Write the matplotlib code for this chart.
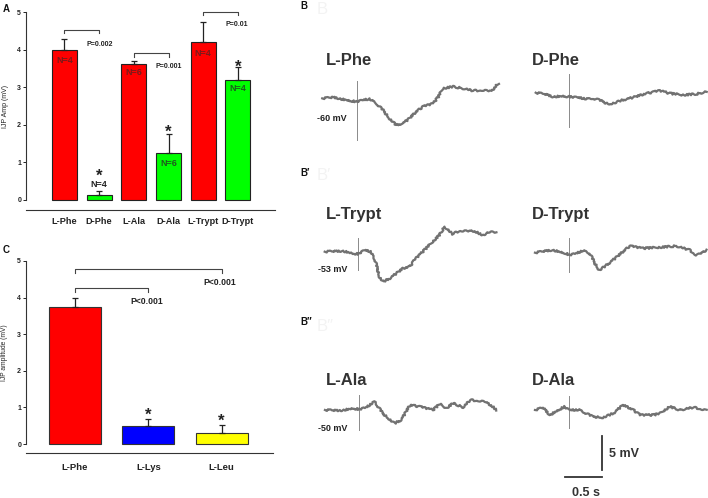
import numpy as np
import matplotlib.pyplot as plt

plt.rcParams['font.family'] = ['Liberation Sans', 'DejaVu Sans']
plt.rcParams['font.weight'] = 'bold'

W, H = 708, 498

# ---- panel A data
a_labels = ['L-Phe', 'D-Phe', 'L-Ala', 'D-Ala', 'L-Trypt', 'D-Trypt']
a_means = [3.98, 0.14, 3.62, 1.24, 4.21, 3.18]
a_err = [0.30, 0.10, 0.08, 0.52, 0.53, 0.35]
a_n = ['N=4', 'N=4', 'N=6', 'N=6', 'N=4', 'N=4']
a_n_y = [3.72, 0.40, 3.40, 0.98, 3.90, 2.97]
a_colors = ['#ff0000', '#00ff00'] * 3
a_pvals = ['P=0.002', 'P=0.001', 'P=0.01']
a_bracket_y = [4.52, 3.90, 5.00]
a_pval_y = [4.14, 3.55, 4.67]
a_star_y = [0.52, 1.69, 3.42]   # over D-Phe, D-Ala, D-Trypt

# ---- panel C data
c_labels = ['L-Phe', 'L-Lys', 'L-Leu']
c_means = [3.73, 0.50, 0.31]
c_err = [0.27, 0.19, 0.21]
c_colors = ['#ff0000', '#0000ff', '#ffff00']
c_pvals = ['P<0.001', 'P<0.001']
c_bracket_y = [4.26, 4.78]
c_pval_y = [3.88, 4.40]
c_star_y = [0.66, 0.50]

# ---- panel B traces: time from stimulus (s), voltage from baseline (mV)
lphe_t = [-0.47, -0.32, -0.14, -0.01, 0.08, 0.17, 0.26, 0.35, 0.44, 0.53, 0.62, 0.71,
          0.80, 0.89, 1.03, 1.10, 1.16, 1.30, 1.43, 1.57, 1.70, 1.82, 1.91]
lphe_v = [0.49, 0.64, 0.25, 0.0, 0.25, 0.39, -0.25, -1.23, -2.45, -3.43, -3.19, -2.45,
          -1.47, -0.74, -0.25, 0.74, 1.96, 2.21, 1.96, 1.62, 1.72, 1.62, 2.70]
dphe_t = [-0.45, -0.33, -0.22, -0.08, 0.0, 0.12, 0.23, 0.32, 0.41, 0.53, 0.62, 0.69,
          0.87, 1.05, 1.14, 1.23, 1.36, 1.54, 1.72, 1.86]
dphe_v = [0.59, 0.39, 0.0, 0.10, 0.0, -0.10, -0.34, -0.25, -0.49, -1.08, -0.88, -0.59,
          -0.10, 0.49, 0.69, 0.88, 0.49, 0.25, 0.39, 0.74]
ltry_t = [-0.45, -0.20, -0.07, 0.0, 0.09, 0.17, 0.23, 0.29, 0.34, 0.43, 0.52, 0.61, 0.70,
          0.77, 0.83, 0.92, 1.01, 1.10, 1.17, 1.24, 1.28, 1.37, 1.55, 1.69, 1.78, 1.87]
ltry_v = [0.34, 0.44, 0.10, 0.0, 0.59, 0.34, -0.88, -3.33, -4.07, -3.58, -2.84, -2.11,
          -1.86, -0.78, -0.15, 0.83, 1.81, 2.79, 4.02, 3.28, 2.94, 3.43, 3.43, 2.79, 3.28, 3.14]
dtry_t = [-0.46, -0.22, -0.04, 0.0, 0.10, 0.19, 0.28, 0.35, 0.41, 0.51, 0.64, 0.82, 1.00,
          1.23, 1.45, 1.63, 1.72, 1.86]
dtry_v = [0.34, 0.74, 0.25, 0.0, 0.25, 0.64, 0.25, -1.23, -2.21, -1.47, -0.34, 1.32, 0.98,
          1.13, 1.32, 0.74, 0.0, 0.74]
lala_t = [-0.46, -0.26, -0.08, 0.0, 0.10, 0.21, 0.32, 0.48, 0.57, 0.69, 0.82, 1.00, 1.09,
          1.18, 1.27, 1.41, 1.50, 1.63, 1.72, 1.86]
lala_v = [-0.10, -0.20, 0.15, 0.0, 0.29, 1.13, -0.59, -2.06, -1.57, 0.64, 0.39, -0.10, 0.78,
          0.15, 0.88, 0.29, 1.37, 1.27, 1.13, -0.10]
dala_t = [-0.46, -0.35, -0.26, -0.13, -0.06, 0.0, 0.14, 0.32, 0.46, 0.60, 0.73, 0.87, 0.96,
          1.14, 1.23, 1.36, 1.50, 1.68, 1.86]
dala_v = [0.0, 0.34, -0.74, 0.10, 0.49, 0.0, 0.0, -0.98, -1.08, -0.49, 0.74, 0.0, -0.74,
          -0.74, -0.49, 0.49, 0.0, 0.39, 0.0]
trace_names = ['L-Phe', 'D-Phe', 'L-Trypt', 'D-Trypt', 'L-Ala', 'D-Ala']
trace_mv = ['-60 mV', None, '-53 mV', None, '-50 mV', None]
stim_extent = [(3.0, -5.6), (3.3, -4.5), (2.35, -2.35), (2.5, -2.5), (2.1, -3.0), (2.05, -2.65)]

fig = plt.figure(figsize=(W / 100, H / 100), dpi=100)


def fx(x, y):
    return x / W, 1 - y / H


def style_axes(ax, offset):
    ax.spines['top'].set_visible(False)
    ax.spines['right'].set_visible(False)
    ax.spines['left'].set_bounds(0, 5)
    ax.spines['bottom'].set_position(('outward', offset))
    for s in ('left', 'bottom'):
        ax.spines[s].set_linewidth(0.8)
        ax.spines[s].set_color('#333333')
    ax.set_ylim(0, 5)
    ax.set_yticks(range(6))
    ax.tick_params(axis='y', length=2, width=0.7, pad=1.5, labelsize=5, colors='#222222')
    ax.tick_params(axis='x', length=0, labelsize=6.6, colors='#222222')


# ---------------- panel A
axA = fig.add_axes([26 / W, 1 - 200 / H, 249 / W, 188 / H])
xa = np.arange(len(a_labels))
axA.bar(xa, a_means, width=0.72, color=a_colors, edgecolor='#222222', linewidth=0.8, clip_on=False)
axA.errorbar(xa, a_means, yerr=[np.zeros(len(xa)), a_err], fmt='none', ecolor='#222222',
             elinewidth=0.9, capsize=2, capthick=0.9, clip_on=False)
axA.set_xlim(-1.11, 6.07)
style_axes(axA, 7.2)
axA.set_xticks(xa, a_labels)
axA.tick_params(axis='x', pad=4.8)
axA.set_ylabel('IJP Amp (mV)', fontsize=5, color='#222222')
axA.yaxis.set_label_coords(-0.068, 0.5)
for i, (by, py, p) in enumerate(zip(a_bracket_y, a_pval_y, a_pvals)):
    x0 = 2 * i
    axA.plot([x0, x0, x0 + 1, x0 + 1], [by - 0.09, by, by, by - 0.09], color='#444444',
             lw=0.8, clip_on=False)
    axA.text(x0 + 0.63, py, p, fontsize=5, color='#222222', va='center', ha='left')
for i, (n, ny) in enumerate(zip(a_n, a_n_y)):
    col = '#222222' if i == 1 else ('#7a1a1a' if i % 2 == 0 else '#1f5a1f')
    axA.text(i, ny, n, fontsize=6.5, ha='center', va='center', color=col)
for i, sy in zip([1, 3, 5], a_star_y):
    axA.text(i, sy, '*', fontsize=12, ha='center', va='baseline', color='#222222')

# ---------------- panel C
axC = fig.add_axes([26 / W, 1 - 444 / H, 247 / W, 183 / H])
xc = np.arange(len(c_labels))
axC.bar(xc, c_means, width=0.705, color=c_colors, edgecolor='#333333', linewidth=0.8, clip_on=False)
axC.errorbar(xc, c_means, yerr=[np.zeros(len(xc)), c_err], fmt='none', ecolor='#222222',
             elinewidth=0.9, capsize=2, capthick=0.9, clip_on=False)
axC.set_xlim(-0.668, 2.70)
style_axes(axC, 6.5)
axC.set_xticks(xc, c_labels)
axC.tick_params(axis='x', pad=7, labelsize=6.8)
axC.set_ylabel('IJP amplitude (mV)', fontsize=4.8, color='#222222')
axC.yaxis.set_label_coords(-0.072, 0.5)
for j, (by, py, p) in enumerate(zip(c_bracket_y, c_pval_y, c_pvals)):
    x1 = j + 1
    axC.plot([0, 0, x1, x1], [by - 0.1, by, by, by - 0.1], color='#444444', lw=0.8, clip_on=False)
    axC.text(x1 - 0.25, py, p, fontsize=6.2, color='#222222', va='center', ha='left')
for i, sy in zip([1, 2], c_star_y):
    axC.text(i, sy, '*', fontsize=12, ha='center', va='baseline', color='#222222')

# ---------------- panel B (traces, axes in s / mV)
PX_S, PX_MV = 74.0, 6.8
axB = fig.add_axes([0, 0, 1, 1])
axB.set_xlim(0, W / PX_S)
axB.set_ylim(0, H / PX_MV)
axB.axis('off')
axB.patch.set_alpha(0)

traces = [(lphe_t, lphe_v), (dphe_t, dphe_v), (ltry_t, ltry_v),
          (dtry_t, dtry_v), (lala_t, lala_v), (dala_t, dala_v)]
anchors = [(357, 101.7), (569, 96.7), (358, 254), (569, 255), (359, 409.3), (569, 410)]
title_pos = [(326, 65), (532, 65), (326, 219), (532, 219), (326, 385), (532, 385)]
mv_pos = [(317, 118), None, (318, 269), None, (318, 428), None]

for k, (t, v) in enumerate(traces):
    xs, ys = anchors[k]
    t0, v0 = xs / PX_S, (H - ys) / PX_MV
    up, dn = stim_extent[k]
    axB.plot([t0, t0], [v0 + dn, v0 + up], color='#8a8a8a', lw=0.7)
    ln, = axB.plot(t0 + np.array(t), v0 + np.array(v), color='#727272', lw=1.6,
                   solid_joinstyle='round')
    ln.set_sketch_params(0.9, 2.0, 6)
    fig.text(*fx(*title_pos[k]), trace_names[k], fontsize=12, color='#333333',
             ha='left', va='baseline')
    if trace_mv[k]:
        fig.text(*fx(*mv_pos[k]), trace_mv[k], fontsize=6.5, color='#222222',
                 ha='left', va='center')

# scale bars
sx = 601.7 / PX_S
sy0 = (H - 470) / PX_MV
axB.plot([sx, sx], [sy0, sy0 + 5], color='#333333', lw=1.3)
hx0 = 565 / PX_S
hy = (H - 477.3) / PX_MV
axB.plot([hx0, hx0 + 0.5], [hy, hy], color='#333333', lw=1.3)
fig.text(*fx(609, 454), '5 mV', fontsize=9, color='#333333', ha='left', va='center')
fig.text(*fx(586, 492.5), '0.5 s', fontsize=9, color='#333333', ha='center', va='center')

# panel letters and faint ghost letters
for lbl, (x, y) in [('A', (3, 8.5)), ('C', (3, 250)), ('B', (300, 6)),
                    ('B\u2032', (300, 173.5)), ('B\u2033', (300, 322))]:
    fig.text(*fx(x, y), lbl, fontsize=7, color='#111111', ha='left', va='center')
for lbl, y in [('B', 9), ('B\u2032', 176), ('B\u2033', 326)]:
    fig.text(*fx(317, y), lbl, fontsize=12, color='#f3f3f3', weight='normal',
             ha='left', va='center')

fig.savefig('out.png', dpi=100)
